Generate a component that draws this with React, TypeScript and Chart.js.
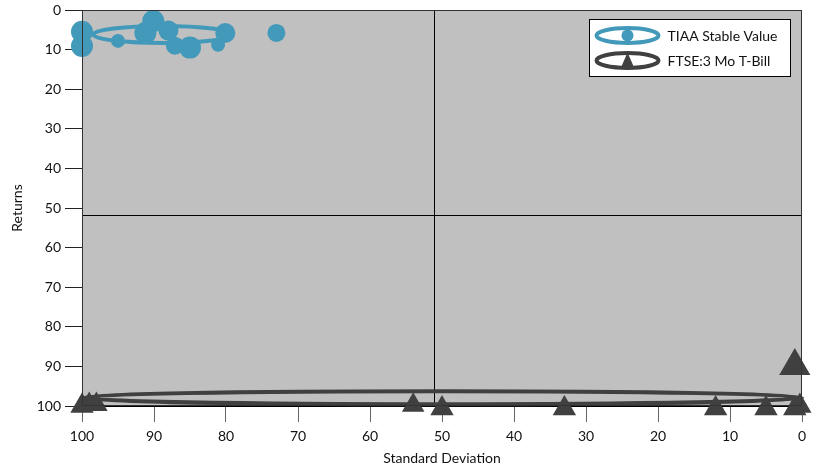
import React, { useEffect, useRef } from "react";
import { Chart, registerables } from "chart.js";

Chart.register(...registerables);

// ---- data ----
const seriesNames = ["TIAA Stable Value", "FTSE:3 Mo T-Bill"];
const axisTitles = ["Standard Deviation", "Returns"];

const tiaaStdDev = [100, 100, 95, 90.1, 91.2, 88, 87.1, 85, 81.1, 80.1, 73];
const tiaaReturns = [5.5, 9.1, 7.8, 2.8, 5.8, 5.2, 9.0, 9.5, 8.8, 5.8, 5.8];
const tiaaSize = [11, 11, 7, 11, 11, 10, 9, 11, 7, 10, 9];

const tbillStdDev = [100, 99, 98, 54, 50, 33, 12, 5, 1, 0.3, 1];
const tbillReturns = [100, 99.6, 99.6, 99.8, 100.6, 100.6, 100.6, 100.6, 100.6, 100, 89.9];
const tbillSize = [13.5, 13, 13, 13, 13.5, 13.5, 13.5, 13.5, 13.5, 13.5, 18];

// ellipses: [centerX, centerY, radiusX, radiusY] in data units
const tiaaEllipse = [88.75, 6.2, 9.7, 2.15];
const tbillEllipse = [50, 97.9, 50, 1.65];

const crossX = 51.1;
const crossY = 51.8;

const axisMin = 0;
const axisMax = 100;
const axisStep = 10;

const BLUE = "#4399b9";
const DARK = "#404040";
const FONT = "Lato, 'DejaVu Sans', sans-serif";

const overlayPlugin = {
  id: "overlay",
  beforeDraw(chart: any) {
    const { ctx, chartArea } = chart;
    ctx.save();
    ctx.fillStyle = "#c0c0c0";
    ctx.fillRect(chartArea.left, chartArea.top, chartArea.right - chartArea.left, chartArea.bottom - chartArea.top);
    ctx.restore();
  },
  beforeDatasetsDraw(chart: any) {
    const { ctx, chartArea } = chart;
    const xs = chart.scales.x;
    const ys = chart.scales.y;
    ctx.save();
    ctx.strokeStyle = "#000";
    ctx.lineWidth = 1;
    const px = Math.round(xs.getPixelForValue(crossX)) + 0.5;
    const py = Math.round(ys.getPixelForValue(crossY)) + 0.5;
    ctx.beginPath();
    ctx.moveTo(px, chartArea.top);
    ctx.lineTo(px, chartArea.bottom);
    ctx.moveTo(chartArea.left, py);
    ctx.lineTo(chartArea.right, py);
    ctx.stroke();
    chart.data.datasets.forEach((ds: any) => {
      const e = ds.ellipse;
      if (!e) return;
      const cx = xs.getPixelForValue(e[0]);
      const cy = ys.getPixelForValue(e[1]);
      const rx = Math.abs(xs.getPixelForValue(e[0] + e[2]) - cx);
      const ry = Math.abs(ys.getPixelForValue(e[1] + e[3]) - cy);
      ctx.beginPath();
      ctx.ellipse(cx, cy, rx, ry, 0, 0, Math.PI * 2);
      ctx.strokeStyle = ds.borderColor;
      ctx.lineWidth = 4;
      ctx.stroke();
    });
    ctx.restore();
  },
  afterDraw(chart: any) {
    const { ctx, chartArea } = chart;
    ctx.save();
    ctx.strokeStyle = "#333";
    ctx.lineWidth = 1;
    ctx.strokeRect(chartArea.left + 0.5, chartArea.top + 0.5, chartArea.right - chartArea.left - 1, chartArea.bottom - chartArea.top - 1);

    // legend
    const bw = 201;
    const bh = 57;
    const bx = Math.round(chartArea.right - 12 - bw) + 0.5;
    const by = Math.round(chartArea.top + 9) + 0.5;
    ctx.fillStyle = "#fff";
    ctx.fillRect(bx, by, bw, bh);
    ctx.strokeStyle = "#000";
    ctx.strokeRect(bx, by, bw, bh);
    chart.data.datasets.forEach((ds: any, i: number) => {
      const cy = by + 16 + i * 25;
      const cx = bx + 38;
      ctx.beginPath();
      ctx.ellipse(cx, cy, 31, 7.5, 0, 0, Math.PI * 2);
      ctx.strokeStyle = ds.borderColor;
      ctx.lineWidth = 4;
      ctx.stroke();
      ctx.fillStyle = ds.backgroundColor;
      ctx.beginPath();
      if (ds.pointStyle === "triangle") {
        ctx.moveTo(cx, cy - 8);
        ctx.lineTo(cx + 7, cy + 8);
        ctx.lineTo(cx - 7, cy + 8);
        ctx.closePath();
      } else {
        ctx.arc(cx, cy, 6, 0, Math.PI * 2);
      }
      ctx.fill();
      ctx.fillStyle = "#111";
      ctx.font = "14px " + FONT;
      ctx.textBaseline = "middle";
      ctx.textAlign = "left";
      ctx.fillText(ds.label, bx + 78, cy + 1);
    });
    ctx.restore();
  },
};

export default function App() {
  const ref = useRef<HTMLCanvasElement | null>(null);

  useEffect(() => {
    if (!ref.current) return;
    const toPts = (xs: number[], ys: number[], rs: number[]) => xs.map((x, i) => ({ x, y: ys[i], r: rs[i] }));
    const chart = new Chart(ref.current, {
      type: "bubble",
      data: {
        datasets: [
          {
            label: seriesNames[0],
            data: toPts(tiaaStdDev, tiaaReturns, tiaaSize),
            backgroundColor: BLUE,
            borderColor: BLUE,
            borderWidth: 0,
            pointStyle: "circle",
            clip: false,
            ellipse: tiaaEllipse,
          } as any,
          {
            label: seriesNames[1],
            data: toPts(tbillStdDev, tbillReturns, tbillSize),
            backgroundColor: DARK,
            borderColor: DARK,
            borderWidth: 0,
            pointStyle: "triangle",
            clip: false,
            ellipse: tbillEllipse,
          } as any,
        ],
      },
      options: {
        animation: false,
        responsive: true,
        maintainAspectRatio: false,
        layout: { autoPadding: false, padding: { top: 10, right: 12, left: 0, bottom: 0 } },
        plugins: { legend: { display: false }, tooltip: { enabled: false } },
        scales: {
          x: {
            type: "linear",
            reverse: true,
            min: axisMin,
            max: axisMax,
            afterFit: (s: any) => {
              s.height = 65;
              s.paddingLeft = 0;
              s.paddingRight = 0;
            },
            ticks: { stepSize: axisStep, color: "#111", padding: 6, font: { family: FONT, size: 14 } },
            grid: { drawOnChartArea: false, tickLength: 16, tickColor: "#666" },
            border: { display: true, color: "#000", width: 1 },
            title: { display: true, text: axisTitles[0], color: "#111", font: { family: FONT, size: 14 }, padding: { top: 0, bottom: 4 } },
          },
          y: {
            type: "linear",
            reverse: true,
            min: axisMin,
            max: axisMax,
            afterFit: (s: any) => {
              s.width = 82;
              s.paddingTop = 0;
              s.paddingBottom = 0;
            },
            ticks: { stepSize: axisStep, color: "#111", padding: 4, font: { family: FONT, size: 14 } },
            grid: { drawOnChartArea: false, tickLength: 17, tickColor: "#222" },
            border: { display: true, color: "#000", width: 1 },
            title: { display: true, text: axisTitles[1], color: "#111", font: { family: FONT, size: 14 }, padding: { top: 9, bottom: 0 } },
          },
        },
      } as any,
      plugins: [overlayPlugin],
    });
    return () => chart.destroy();
  }, []);

  return (
    <div style={{ position: "absolute", left: 0, top: 0, width: 814, height: 471 }}>
      <canvas ref={ref} />
    </div>
  );
}
